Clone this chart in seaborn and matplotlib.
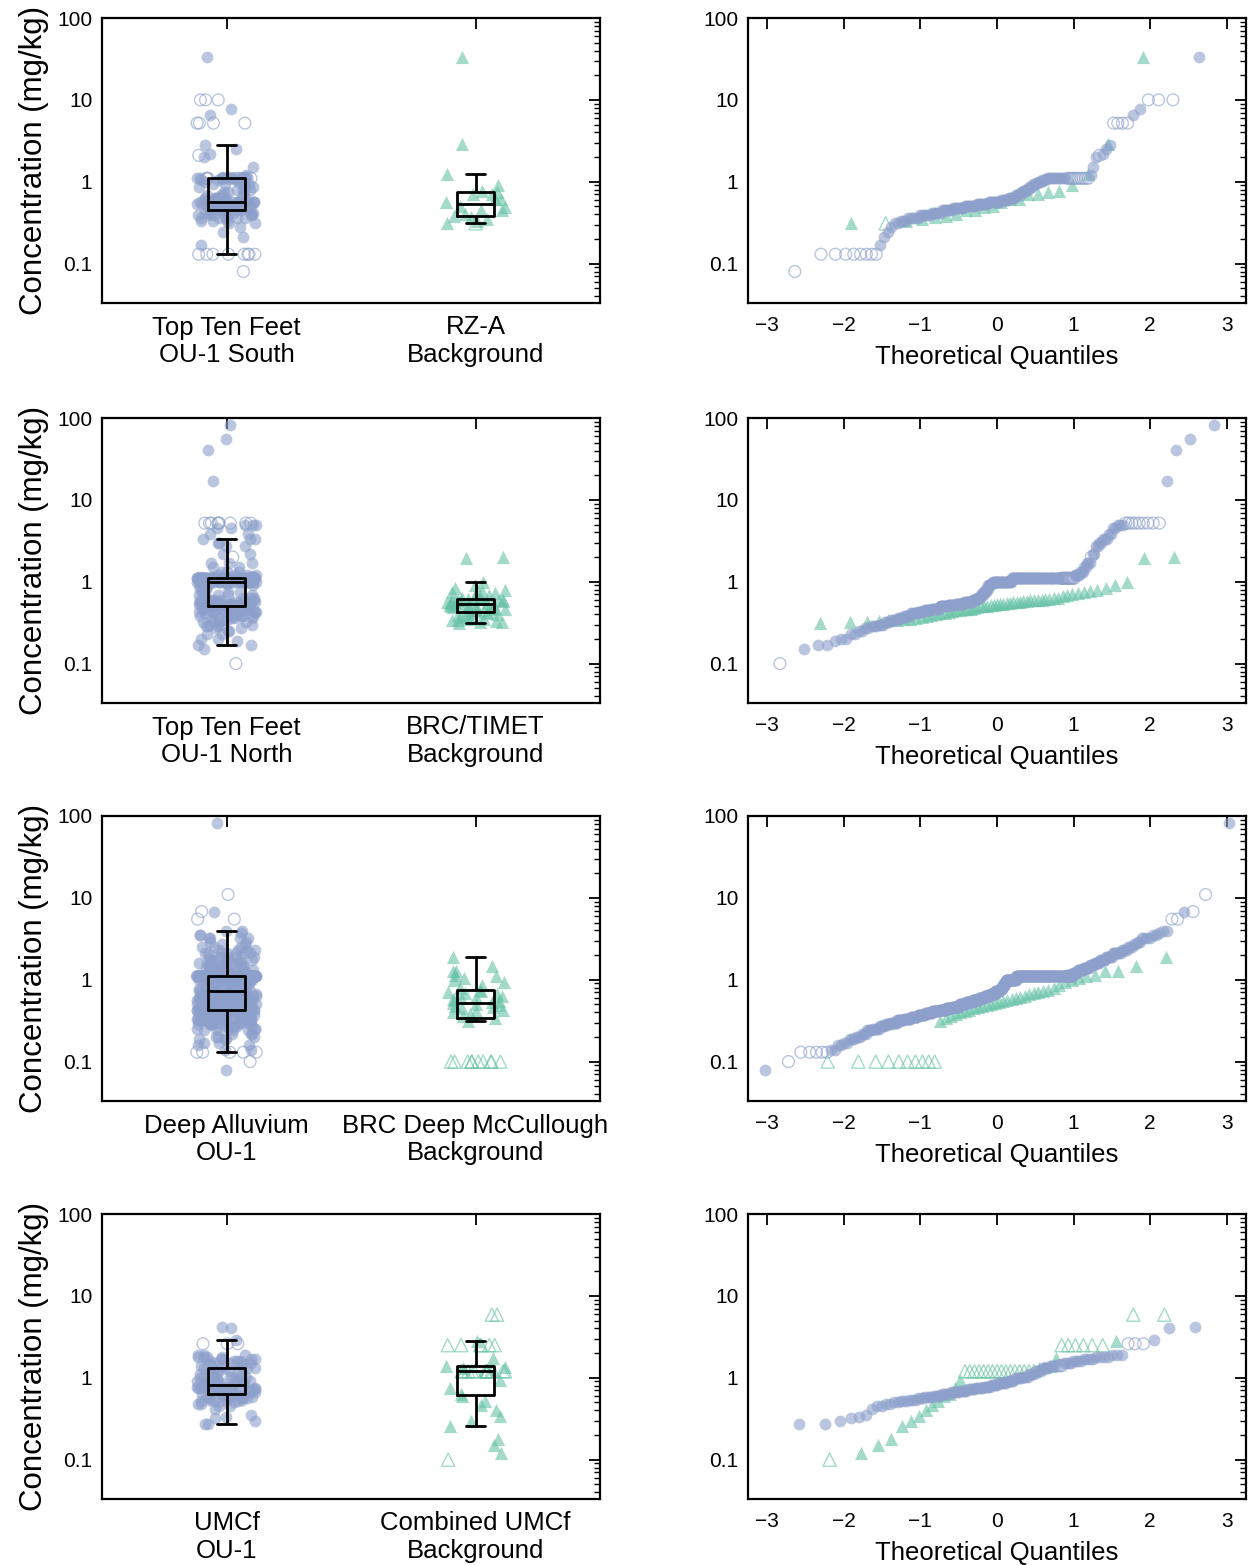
import statistics

import numpy as np
import pandas as pd
import matplotlib
matplotlib.use("Agg")
import matplotlib.pyplot as plt
from matplotlib import ticker
import seaborn as sns

BLUE = "#8da0cb"
GREEN = "#66c2a5"
NORM = statistics.NormalDist()

# ---- Concentrations (mg/kg) as frequency tables: detects and non-detects ----
# Row 1: Top Ten Feet OU-1 South vs RZ-A Background
south_det_vals = [0.17, 0.21, 0.24, 0.28, 0.31, 0.33, 0.36, 0.39, 0.42, 0.45, 0.48, 0.50,
                  0.53, 0.56, 0.59, 0.63, 0.68, 0.74, 0.80, 0.87, 0.93, 0.98, 1.04, 1.1,
                  1.2, 1.5, 2.0, 2.2, 2.5, 2.8, 6.5, 7.8, 33]
south_det_counts = [1, 1, 1, 1, 2, 3, 5, 6, 6, 7, 8, 9,
                    9, 10, 6, 5, 4, 3, 3, 3, 3, 3, 3, 12,
                    1, 1, 1, 1, 1, 1, 1, 1, 1]
south_nd_vals = [0.08, 0.13, 1.1, 2.1, 5.2, 10]
south_nd_counts = [1, 8, 10, 1, 4, 3]

rza_det_vals = [0.31, 0.33, 0.35, 0.37, 0.38, 0.40, 0.45, 0.49, 0.51, 0.56, 0.62, 0.71,
                0.75, 0.78, 0.90, 1.25, 2.9, 33]
rza_det_counts = [1, 1, 1, 1, 1, 1, 2, 1, 1, 1, 2, 2,
                  1, 1, 1, 1, 1, 1]
rza_nd_vals = [0.31]
rza_nd_counts = [1]

# Row 2: Top Ten Feet OU-1 North vs BRC/TIMET Background
north_det_vals = [0.15, 0.17, 0.19, 0.20, 0.23, 0.25, 0.27, 0.29, 0.30, 0.32, 0.34, 0.36,
                  0.38, 0.41, 0.43, 0.45, 0.47, 0.50, 0.52, 0.54, 0.56, 0.60, 0.64, 0.68,
                  0.75, 0.82, 0.90, 0.95, 1.0, 1.1, 1.2, 1.3, 1.5, 1.7, 2.2, 2.7,
                  3.0, 3.3, 3.8, 4.5, 5.0, 17, 41, 55, 83]
north_det_counts = [1, 2, 1, 2, 2, 2, 2, 3, 3, 3, 4, 4,
                    5, 5, 6, 7, 8, 9, 10, 10, 11, 6, 5, 4,
                    4, 3, 3, 3, 27, 60, 4, 3, 2, 3, 2, 2,
                    2, 3, 2, 2, 3, 1, 1, 1, 1]
north_nd_vals = [0.10, 1.1, 2.0, 5.2]
north_nd_counts = [1, 13, 1, 9]

timet_det_vals = [0.31, 0.32, 0.33, 0.34, 0.35, 0.36, 0.37, 0.38, 0.39, 0.40, 0.41, 0.42,
                  0.43, 0.44, 0.45, 0.46, 0.47, 0.48, 0.49, 0.50, 0.51, 0.52, 0.53, 0.54,
                  0.55, 0.56, 0.57, 0.58, 0.59, 0.60, 0.61, 0.62, 0.63, 0.64, 0.66, 0.68,
                  0.70, 0.72, 0.75, 0.78, 0.80, 0.84, 0.91, 1.0, 1.94, 2.03]
timet_det_counts = [1, 2, 1, 2, 2, 1, 1, 1, 1, 1, 1, 1,
                    1, 1, 2, 1, 2, 1, 1, 2, 1, 2, 1, 2,
                    2, 1, 2, 2, 2, 2, 1, 1, 1, 1, 1, 1,
                    1, 1, 1, 1, 1, 1, 1, 1, 1, 1]
timet_nd_vals = []
timet_nd_counts = []

# Row 3: Deep Alluvium OU-1 vs BRC Deep McCullough Background
deep_det_vals = [0.08, 0.14, 0.16, 0.17, 0.19, 0.20, 0.22, 0.24, 0.25, 0.27, 0.29, 0.30,
                 0.32, 0.33, 0.35, 0.37, 0.39, 0.41, 0.43, 0.45, 0.47, 0.50, 0.53, 0.56,
                 0.59, 0.63, 0.67, 0.72, 0.78, 0.85, 0.92, 1.0, 1.1, 1.2, 1.3, 1.4,
                 1.5, 1.6, 1.75, 1.9, 2.1, 2.3, 2.5, 2.7, 2.9, 3.2, 3.5, 3.7,
                 3.9, 6.8, 83]
deep_det_counts = [1, 2, 2, 2, 3, 3, 3, 4, 5, 5, 5, 7,
                   8, 9, 10, 12, 12, 14, 14, 14, 15, 16, 16, 16,
                   14, 14, 14, 12, 6, 5, 5, 26, 110, 8, 8, 8,
                   6, 6, 6, 6, 7, 4, 3, 2, 2, 4, 2, 1,
                   2, 1, 1]
deep_nd_vals = [0.10, 0.13, 1.1, 5.5, 6.8, 11]
deep_nd_counts = [1, 5, 10, 2, 1, 1]

mccull_det_vals = [0.31, 0.34, 0.36, 0.38, 0.40, 0.41, 0.43, 0.45, 0.46, 0.48, 0.49, 0.50,
                   0.52, 0.53, 0.55, 0.56, 0.58, 0.60, 0.62, 0.64, 0.66, 0.68, 0.70, 0.72,
                   0.75, 0.80, 0.86, 0.94, 0.98, 1.04, 1.1, 1.14, 1.28, 1.49, 1.87]
mccull_det_counts = [1] * 32 + [2, 1, 1]
mccull_nd_vals = [0.10]
mccull_nd_counts = [10]

# Row 4: UMCf OU-1 vs Combined UMCf Background
umcf_det_vals = [0.27, 0.30, 0.32, 0.33, 0.35, 0.42, 0.45, 0.48, 0.50, 0.52, 0.54, 0.56,
                 0.58, 0.60, 0.63, 0.66, 0.69, 0.72, 0.75, 0.78, 0.82, 0.87, 0.92, 0.98,
                 1.03, 1.1, 1.2, 1.3, 1.4, 1.5, 1.6, 1.7, 1.8, 1.9, 2.9, 4.1, 4.2]
umcf_det_counts = [2, 1, 1, 1, 1, 1, 2, 2, 2, 3, 3, 3,
                   4, 4, 5, 5, 5, 5, 5, 5, 5, 6, 5, 5,
                   4, 4, 4, 4, 4, 4, 4, 4, 4, 3, 1, 1, 1]
umcf_nd_vals = [1.4, 2.6]
umcf_nd_counts = [3, 3]

cumcf_det_vals = [0.12, 0.15, 0.18, 0.26, 0.30, 0.34, 0.40, 0.46, 0.52, 0.60, 0.64, 0.74,
                  0.94, 1.3, 1.35, 1.4, 1.73, 2.8]
cumcf_det_counts = [1] * 18
cumcf_nd_vals = [0.10, 1.2, 2.5, 5.9]
cumcf_nd_counts = [1, 16, 6, 2]


def make_group(name, det_vals, det_counts, nd_vals, nd_counts):
    det = np.repeat(np.asarray(det_vals, float), det_counts)
    nd = np.repeat(np.asarray(nd_vals, float), nd_counts)
    df = pd.DataFrame({
        "group": name,
        "conc": np.concatenate([det, nd]),
        "nd": np.r_[np.zeros(len(det), bool), np.ones(len(nd), bool)],
    })
    df = df.sort_values(["conc", "nd"], kind="mergesort").reset_index(drop=True)
    n = len(df)
    pp = (np.arange(1, n + 1) - 0.375) / (n + 0.25)  # Blom plotting positions
    df["quantile"] = [NORM.inv_cdf(p) for p in pp]
    return df


panels = [
    (make_group("Top Ten Feet\nOU-1 South", south_det_vals, south_det_counts,
                south_nd_vals, south_nd_counts),
     make_group("RZ-A\nBackground", rza_det_vals, rza_det_counts, rza_nd_vals, rza_nd_counts)),
    (make_group("Top Ten Feet\nOU-1 North", north_det_vals, north_det_counts,
                north_nd_vals, north_nd_counts),
     make_group("BRC/TIMET\nBackground", timet_det_vals, timet_det_counts,
                timet_nd_vals, timet_nd_counts)),
    (make_group("Deep Alluvium\nOU-1", deep_det_vals, deep_det_counts,
                deep_nd_vals, deep_nd_counts),
     make_group("BRC Deep McCullough\nBackground", mccull_det_vals, mccull_det_counts,
                mccull_nd_vals, mccull_nd_counts)),
    (make_group("UMCf\nOU-1", umcf_det_vals, umcf_det_counts, umcf_nd_vals, umcf_nd_counts),
     make_group("Combined UMCf\nBackground", cumcf_det_vals, cumcf_det_counts,
                cumcf_nd_vals, cumcf_nd_counts)),
]

CIRCLE_SIZE = 8.5
TRI_SIZE = 9.5


def style_log_axis(ax):
    ax.set_yscale("log")
    ax.set_ylim(0.033, 100)
    ax.yaxis.set_major_locator(ticker.FixedLocator([0.1, 1, 10, 100]))
    ax.yaxis.set_major_formatter(ticker.FuncFormatter(lambda v, _: f"{v:g}"))
    ax.yaxis.set_minor_locator(ticker.LogLocator(base=10, subs=np.arange(2, 10)))
    ax.yaxis.set_minor_formatter(ticker.NullFormatter())
    ax.tick_params(which="both", direction="in", top=True, right=True, colors="black")
    ax.tick_params(which="major", length=8, width=1.3)
    ax.tick_params(axis="y", which="major", labelsize=15, pad=7)
    ax.tick_params(which="minor", length=4, width=1)
    ax.minorticks_on()
    ax.xaxis.set_minor_locator(ticker.NullLocator())
    for s in ax.spines.values():
        s.set_linewidth(1.6)
        s.set_color("black")


def draw_box(ax, site, bg):
    order = [site["group"][0], bg["group"][0]]
    ax.set_yscale("log")
    for df, color, marker, size in [(site, BLUE, "o", CIRCLE_SIZE), (bg, GREEN, "^", TRI_SIZE)]:
        det = df[~df["nd"]]
        nd = df[df["nd"]]
        sns.stripplot(data=det, x="group", y="conc", order=order, ax=ax, color=color,
                      marker=marker, size=size, alpha=0.6, jitter=0.12, linewidth=0,
                      zorder=1)
        if len(nd):
            sns.stripplot(data=nd, x="group", y="conc", order=order, ax=ax, color=color,
                          marker=marker, size=size, alpha=0.6, jitter=0.12,
                          facecolor="none", edgecolor=color, linewidth=1, zorder=1)
    data = pd.concat([site, bg], ignore_index=True)
    sns.boxplot(data=data, x="group", y="conc", order=order, ax=ax, fill=False,
                color="black", width=0.15, linewidth=2, showfliers=False, whis=1.5)
    style_log_axis(ax)
    ax.set_xlim(-0.5, 1.5)
    ax.set_xlabel("")
    ax.set_ylabel("Concentration (mg/kg)", fontsize=22.5, labelpad=6)
    ax.tick_params(axis="x", labelsize=18.5, pad=9)
    for lab in ax.get_xticklabels():
        lab.set_linespacing(1.18)


def draw_qq(ax, site, bg):
    ax.set_yscale("log")
    for df, color, marker, s in [(bg, GREEN, "^", TRI_SIZE ** 2), (site, BLUE, "o", CIRCLE_SIZE ** 2)]:
        det = df[~df["nd"]]
        nd = df[df["nd"]]
        sns.scatterplot(data=det, x="quantile", y="conc", ax=ax, color=color,
                        marker=marker, s=s, alpha=0.6, linewidth=0)
        if len(nd):
            sns.scatterplot(data=nd, x="quantile", y="conc", ax=ax, color=color,
                            marker=marker, s=s, alpha=0.6, facecolor="none",
                            edgecolor=color, linewidth=1)
    style_log_axis(ax)
    ax.set_xlim(-3.25, 3.25)
    ax.set_xticks(range(-3, 4))
    ax.tick_params(axis="x", labelsize=15, pad=9.5)
    ax.set_xlabel("Theoretical Quantiles", fontsize=18.5, labelpad=7)
    ax.set_ylabel("")


sns.set_theme(style="white", rc={"axes.edgecolor": "black", "text.color": "black",
                                 "axes.labelcolor": "black", "xtick.color": "black",
                                 "ytick.color": "black"})
plt.rcParams["font.family"] = ["Liberation Sans", "DejaVu Sans"]
np.random.seed(7)

fig = plt.figure(figsize=(12.49, 15.65), dpi=100)
W, H = 1249, 1565
tops = [18, 418, 816, 1214]
for (site, bg), top in zip(panels, tops):
    b = 1 - (top + 285) / H
    ax_l = fig.add_axes([102 / W, b, 498 / W, 285 / H])
    ax_r = fig.add_axes([748 / W, b, 498 / W, 285 / H])
    draw_box(ax_l, site, bg)
    draw_qq(ax_r, site, bg)

fig.savefig("out.png", dpi=100)
